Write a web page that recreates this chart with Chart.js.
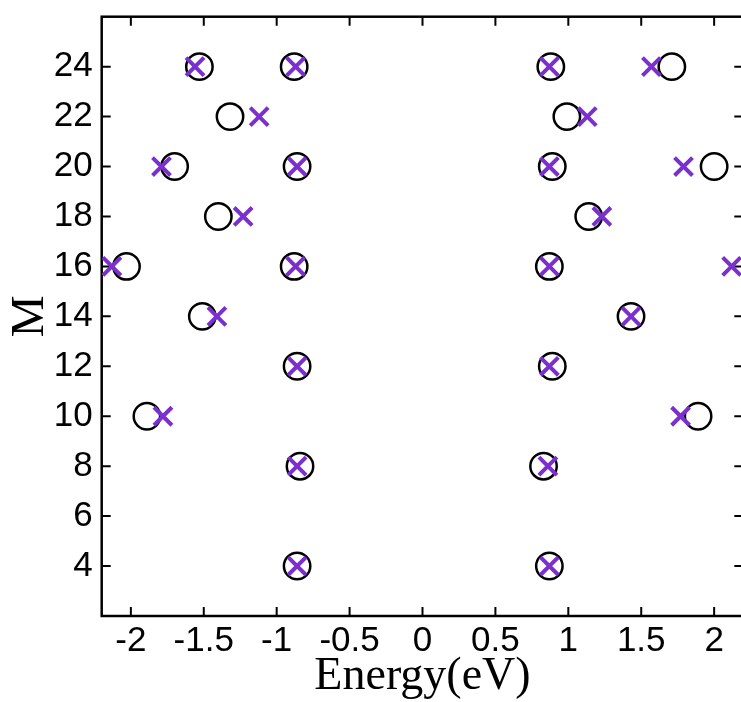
<!DOCTYPE html>
<html>
<head>
<meta charset="utf-8">
<script src="https://cdn.jsdelivr.net/npm/chart.js@4.4.0/dist/chart.umd.min.js"></script>
<style>
html, body { margin: 0; padding: 0; background: #fff; overflow: hidden; }
canvas { display: block; background: #fff; }
</style>
</head>
<body>
<canvas id="chart" width="760" height="702"></canvas>
<script>
// energy levels (eV) for each M
const crossM = [4, 4, 8, 8, 10, 10, 12, 12, 14, 14, 16, 16, 16, 16, 18, 18, 20, 20, 20, 20, 22, 22, 24, 24, 24, 24]
const crossE = [-0.86, 0.87, -0.86, 0.86, -1.78, 1.77, -0.86, 0.87, -1.41, 1.43, -2.13, -0.87, 0.87, 2.12, -1.23, 1.23, -1.79, -0.86, 0.87, 1.79, -1.12, 1.13, -1.56, -0.87, 0.87, 1.57]

const circleM = [4, 4, 8, 8, 10, 10, 12, 12, 14, 14, 16, 16, 16, 18, 18, 20, 20, 20, 20, 22, 22, 24, 24, 24, 24]
const circleE = [-0.86, 0.87, -0.84, 0.83, -1.89, 1.89, -0.86, 0.89, -1.51, 1.43, -2.03, -0.88, 0.87, -1.40, 1.14, -1.70, -0.86, 0.89, 2.00, -1.32, 0.99, -1.53, -0.88, 0.88, 1.71]

const xTicks = [-2, -1.5, -1, -0.5, 0, 0.5, 1, 1.5, 2]
const yTicks = [4, 6, 8, 10, 12, 14, 16, 18, 20, 22, 24]

const purple = '#7b2fcf'

function toPoints(xs, ys) {
    return xs.map((v, i) => ({ x: v, y: ys[i] }))
}

// box around the plot with ticks pointing inward on every side
const framePlugin = {
    id: 'frame',
    beforeDatasetsDraw(chart) {
        const ctx = chart.ctx
        const a = chart.chartArea
        const x = chart.scales.x
        const y = chart.scales.y
        const len = 9
        ctx.save()
        ctx.strokeStyle = '#000'
        ctx.lineWidth = 2
        ctx.beginPath()
        xTicks.forEach(v => {
            const px = x.getPixelForValue(v)
            ctx.moveTo(px, a.bottom)
            ctx.lineTo(px, a.bottom - len)
            ctx.moveTo(px, a.top)
            ctx.lineTo(px, a.top + len)
        })
        yTicks.forEach(v => {
            const py = y.getPixelForValue(v)
            ctx.moveTo(a.left, py)
            ctx.lineTo(a.left + len, py)
            ctx.moveTo(a.right, py)
            ctx.lineTo(a.right - len, py)
        })
        ctx.stroke()
        ctx.lineWidth = 2.5
        ctx.strokeRect(a.left, a.top, a.right - a.left, a.bottom - a.top)
        ctx.restore()
    }
}

const tickFont = { family: "'Liberation Sans', Arial, sans-serif", size: 35, lineHeight: 1 }
const serif = "'Liberation Serif', 'Times New Roman', serif"

new Chart(document.getElementById('chart'), {
    type: 'scatter',
    data: {
        datasets: [
            {
                label: 'cross',
                data: toPoints(crossE, crossM),
                pointStyle: 'crossRot',
                pointRadius: 12.7,
                pointBorderWidth: 4,
                borderColor: purple,
                backgroundColor: purple,
            },
            {
                label: 'circle',
                data: toPoints(circleE, circleM),
                pointStyle: 'circle',
                pointRadius: 13.2,
                pointBorderWidth: 2.5,
                borderColor: '#000',
                backgroundColor: 'rgba(0,0,0,0)',
            }
        ]
    },
    options: {
        responsive: false,
        animation: false,
        layout: { padding: { left: 6.7, top: 15, right: 1.4, bottom: 0 } },
        plugins: {
            legend: { display: false },
            tooltip: { enabled: false },
        },
        scales: {
            x: {
                type: 'linear',
                min: -2.2,
                max: 2.2,
                afterBuildTicks: s => { s.ticks = xTicks.map(v => ({ value: v })) },
                afterFit: s => {
                    s.height = 86
                    s.paddingLeft = 0
                    s.paddingRight = 0
                },
                grid: { display: false, drawTicks: false },
                border: { display: false },
                ticks: {
                    font: tickFont,
                    color: '#000',
                    padding: 7.5,
                    maxRotation: 0,
                    autoSkip: false,
                    callback: v => String(v),
                },
                title: {
                    display: true,
                    text: 'Energy(eV)',
                    color: '#000',
                    font: { family: serif, size: 46, lineHeight: 0.8 },
                    padding: { top: 0, bottom: 6.6 },
                },
            },
            y: {
                type: 'linear',
                min: 2,
                max: 26,
                afterBuildTicks: s => { s.ticks = yTicks.map(v => ({ value: v })) },
                afterFit: s => {
                    s.width = 95
                    s.paddingTop = 0
                    s.paddingBottom = 0
                },
                grid: { display: false, drawTicks: false },
                border: { display: false },
                ticks: {
                    font: tickFont,
                    color: '#000',
                    padding: 9,
                    autoSkip: false,
                    callback: v => String(v),
                },
                title: {
                    display: true,
                    text: 'M',
                    color: '#000',
                    font: { family: serif, size: 47, lineHeight: 1 },
                    padding: 0,
                },
            }
        }
    },
    plugins: [framePlugin]
})
</script>
</body>
</html>
